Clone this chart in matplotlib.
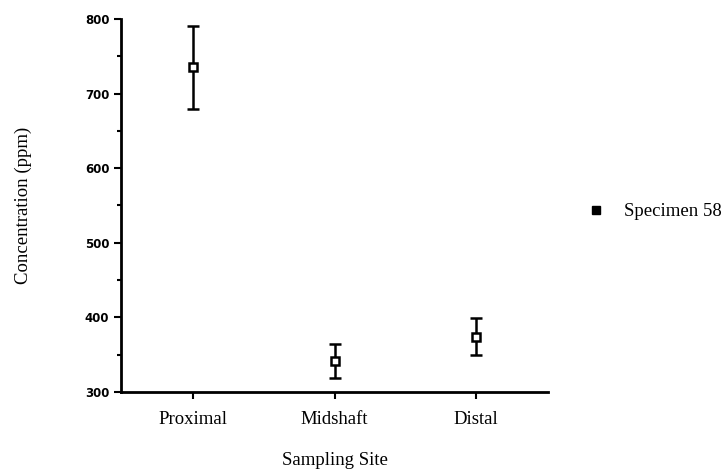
import numpy as np
import matplotlib.pyplot as plt
from matplotlib.ticker import MultipleLocator
from matplotlib.lines import Line2D

# sampling sites and measured concentration (mean +/- error)
sites = ["Proximal", "Midshaft", "Distal"]
conc = [735, 342, 374]
err = [56, 23, 25]

fig = plt.figure(figsize=(7.25, 4.74), dpi=100)
ax = fig.add_axes([0.167, 0.173, 0.589, 0.787])

x = np.arange(len(sites))
ax.errorbar(x, conc, yerr=err, fmt="s", color="black", mfc="white", mec="black",
            mew=1.8, ms=6, ecolor="black", elinewidth=1.8, capsize=4, capthick=1.8)

ax.set_xlim(-0.51, 2.51)
ax.set_ylim(300, 800)
ax.set_xticks(x)
ax.set_xticklabels(sites, family="Liberation Serif", fontsize=13.5)
ax.yaxis.set_major_locator(MultipleLocator(100))
ax.yaxis.set_minor_locator(MultipleLocator(50))
for lab in ax.get_yticklabels():
    lab.set_fontweight("bold")
    lab.set_fontsize(8.5)

ax.spines["top"].set_visible(False)
ax.spines["right"].set_visible(False)
ax.spines["left"].set_linewidth(2)
ax.spines["bottom"].set_linewidth(2)
ax.tick_params(axis="both", which="major", direction="out", length=5, width=1.5)
ax.tick_params(axis="x", which="major", pad=9)
ax.tick_params(axis="y", which="minor", direction="out", length=3, width=1.5)

ax.set_ylabel("Concentration (ppm)", family="Liberation Serif", fontsize=13.5, labelpad=38)
ax.set_xlabel("Sampling Site", family="Liberation Serif", fontsize=13.5, labelpad=17)

# legend shows only the marker
handle = Line2D([], [], ls="none", marker="s", ms=6, mfc="black", mec="black",
                label="Specimen 58")
ax.legend(handles=[handle], loc="center left", bbox_to_anchor=(1.05, 0.483),
          frameon=False, prop={"family": "Liberation Serif", "size": 13.5},
          handletextpad=1.0, handlelength=1.0)

fig.savefig("out.png", dpi=100)
